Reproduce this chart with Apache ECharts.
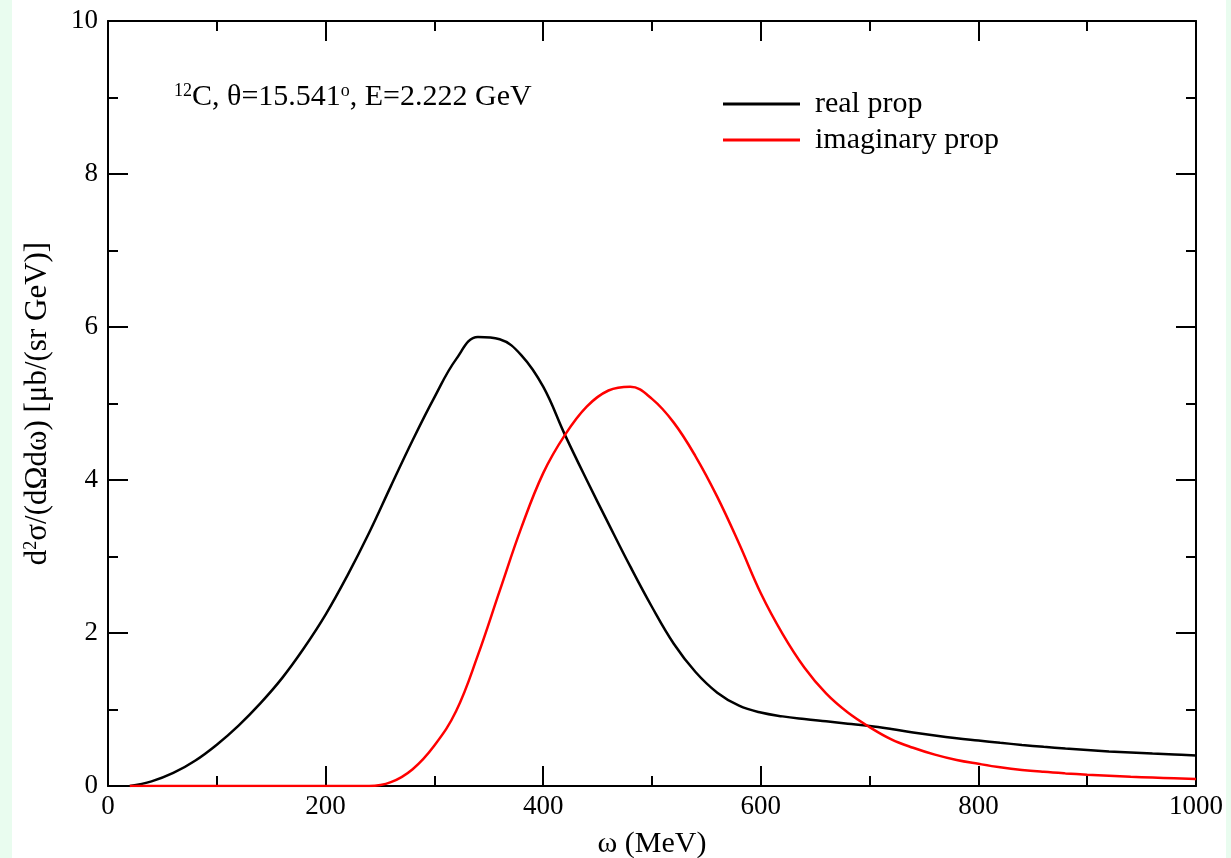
<!DOCTYPE html>
<html>
<head>
<meta charset="utf-8">
<script src="https://cdn.jsdelivr.net/npm/echarts@6/dist/echarts.min.js"></script>
<style>
html,body{margin:0;padding:0;width:1231px;height:858px;background:#e9fcef;overflow:hidden;}
#panel{position:absolute;left:12px;top:0;width:1214px;height:858px;background:#fff;}
#chart{position:absolute;left:0;top:0;width:1231px;height:858px;}
</style>
</head>
<body>
<div id="panel"></div>
<div id="chart"></div>
<script>
// ---- data ----
var omega = [20, 40, 60, 80, 100, 120, 140, 160, 180, 200, 220, 240, 260, 280, 300, 320, 340, 360, 380, 400,
             420, 440, 460, 480, 500, 520, 540, 560, 580, 600, 620, 640, 660, 680, 700, 720, 740, 760, 780, 800,
             820, 840, 860, 880, 900, 920, 940, 960, 980, 1000];
var realY = [0, 0.06, 0.17, 0.33, 0.54, 0.79, 1.08, 1.41, 1.80, 2.24, 2.75, 3.31, 3.92, 4.52, 5.08, 5.58, 5.87, 5.84, 5.63, 5.22,
             4.59, 4.0, 3.43, 2.87, 2.34, 1.86, 1.49, 1.22, 1.05, 0.96, 0.91, 0.875, 0.845, 0.815, 0.785, 0.745, 0.70, 0.66, 0.625, 0.595,
             0.565, 0.537, 0.512, 0.49, 0.47, 0.452, 0.438, 0.425, 0.413, 0.40];
var imagY = [0, 0, 0, 0, 0, 0, 0, 0, 0, 0, 0, 0, 0.05, 0.22, 0.53, 0.98, 1.71, 2.55, 3.38, 4.09,
             4.59, 4.96, 5.17, 5.22, 5.06, 4.75, 4.31, 3.78, 3.17, 2.52, 1.99, 1.55, 1.21, 0.96, 0.77, 0.61, 0.50, 0.41, 0.34, 0.29,
             0.245, 0.21, 0.185, 0.165, 0.148, 0.134, 0.121, 0.11, 0.10, 0.09];
var seriesNames = ['real prop', 'imaginary prop'];
var xTicks = {min: 0, max: 1000, interval: 200};
var yTicks = {min: 0, max: 10, interval: 2};

function pairs(xs, ys){ return xs.map(function(x,i){ return [x, ys[i]]; }); }

var FONT = 'Liberation Serif';
var axisLine = {show: true, onZero: false, lineStyle: {color: '#000', width: 2}};
var tick = {show: true, inside: true, length: 20, lineStyle: {color: '#000', width: 2}};
var minor = {show: true, splitNumber: 2, length: 10, lineStyle: {color: '#000', width: 2}};
var plain = function(v){ return String(v); };

var chart = echarts.init(document.getElementById('chart'));
chart.setOption({
  animation: false,
  backgroundColor: 'transparent',
  textStyle: {fontFamily: FONT},
  grid: {left: 108, right: 35, top: 21, bottom: 72, containLabel: false, outerBoundsMode: 'none'},
  legend: {
    orient: 'vertical', left: 718, top: 84,
    icon: 'rect', itemWidth: 77, itemHeight: 3, itemGap: 6,
    textStyle: {fontFamily: FONT, fontSize: 30, color: '#000', padding: [0,0,0,10]},
    data: seriesNames
  },
  xAxis: [{
    type: 'value', min: xTicks.min, max: xTicks.max, interval: xTicks.interval,
    position: 'bottom',
    name: 'ω (MeV)', nameLocation: 'middle', nameGap: 43,
    nameTextStyle: {fontFamily: FONT, fontSize: 30, color: '#000'},
    axisLine: axisLine, axisTick: tick, minorTick: minor,
    axisLabel: {fontFamily: FONT, fontSize: 27, color: '#000', margin: 7, formatter: plain},
    splitLine: {show: false}
  }, {
    type: 'value', min: xTicks.min, max: xTicks.max, interval: xTicks.interval,
    position: 'top',
    axisLine: axisLine, axisTick: tick, minorTick: minor,
    axisLabel: {show: false}, splitLine: {show: false}
  }],
  yAxis: [{
    type: 'value', min: yTicks.min, max: yTicks.max, interval: yTicks.interval,
    position: 'left',
    name: '{n|d}{s|2}{n|σ/(dΩdω) [μb/(sr GeV)]}', nameLocation: 'middle', nameGap: 55,
    nameTextStyle: {fontFamily: FONT, fontSize: 31, color: '#000',
      rich: {n: {fontFamily: FONT, fontSize: 31, color: '#000'},
             s: {fontFamily: FONT, fontSize: 18, color: '#000', verticalAlign: 'top'}}},
    axisLine: axisLine, axisTick: tick, minorTick: minor,
    axisLabel: {fontFamily: FONT, fontSize: 27, color: '#000', margin: 10, formatter: plain},
    splitLine: {show: false}
  }, {
    type: 'value', min: yTicks.min, max: yTicks.max, interval: yTicks.interval,
    position: 'right',
    axisLine: axisLine, axisTick: tick, minorTick: minor,
    axisLabel: {show: false}, splitLine: {show: false}
  }],
  graphic: [{
    type: 'text', left: 174, top: 82,
    style: {
      text: '{s|12}{n|C, θ=15.541}{s|o}{n|, E=2.222 GeV}',
      rich: {
        n: {fontFamily: FONT, fontSize: 30, fill: '#000'},
        s: {fontFamily: FONT, fontSize: 18, fill: '#000', verticalAlign: 'top'}
      }
    }
  }],
  series: [{
    name: seriesNames[0], type: 'line', xAxisIndex: 0, yAxisIndex: 0,
    data: pairs(omega, realY), smooth: 0.4, showSymbol: false,
    lineStyle: {color: '#000', width: 2.5}, itemStyle: {color: '#000'}
  }, {
    name: seriesNames[1], type: 'line', xAxisIndex: 0, yAxisIndex: 0,
    data: pairs(omega, imagY), smooth: 0.4, showSymbol: false,
    lineStyle: {color: '#ff0000', width: 2.5}, itemStyle: {color: '#ff0000'}
  }]
});
</script>
</body>
</html>
